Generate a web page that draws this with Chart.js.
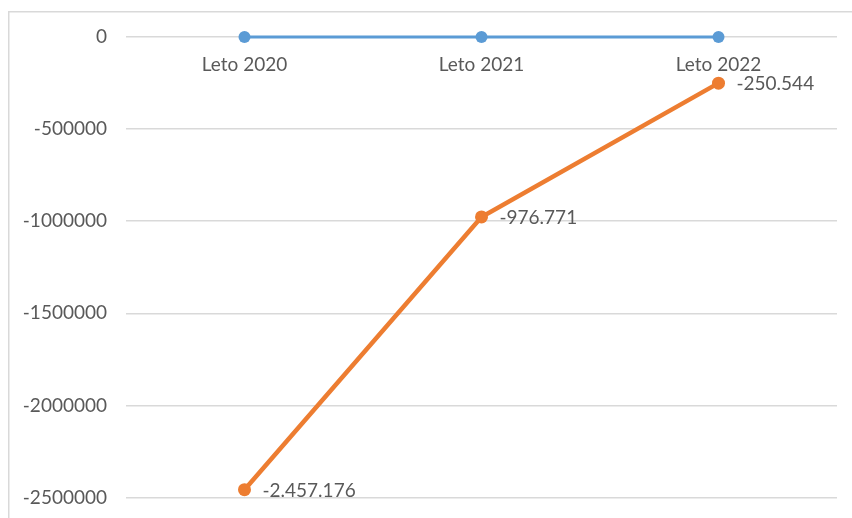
<!DOCTYPE html>
<html>
<head>
<meta charset="utf-8">
<script src="https://cdn.jsdelivr.net/npm/chart.js@4/dist/chart.umd.min.js"></script>
<style>
html,body{margin:0;padding:0;background:#fff;overflow:hidden;}
#wrap{position:relative;width:852px;height:518px;overflow:hidden;}
</style>
</head>
<body>
<div id="wrap"><canvas id="c" width="852" height="528"></canvas></div>
<script>
const categories = ['Leto 2020', 'Leto 2021', 'Leto 2022'];
const seriesBlue = [0, 0, 0];
const seriesOrange = [-2457176, -976771, -250544];
const orangeLabels = ['-2.457.176', '-976.771', '-250.544'];
const yMin = -2500000;
const yMax = 0;
const yStep = 500000;

const FONT = 'Lato, "Open Sans", sans-serif';
const TXT = '#595959';

const borderPlugin = {
  id: 'frame',
  beforeDraw(chart) {
    const ctx = chart.ctx;
    ctx.save();
    ctx.fillStyle = '#fff';
    ctx.fillRect(0, 0, chart.width, chart.height);
    ctx.strokeStyle = '#d9d9d9';
    ctx.lineWidth = 1.5;
    ctx.strokeRect(8.75, 11.75, 1000, 1000);
    ctx.restore();
  }
};

const labelPlugin = {
  id: 'pointLabels',
  afterDatasetsDraw(chart) {
    const ctx = chart.ctx;
    const meta = chart.getDatasetMeta(1);
    ctx.save();
    ctx.font = '19px ' + FONT;
    ctx.fillStyle = TXT;
    ctx.textAlign = 'left';
    ctx.textBaseline = 'middle';
    meta.data.forEach((pt, i) => {
      ctx.fillText(orangeLabels[i], pt.x + 18, pt.y + 1);
    });
    ctx.restore();
  }
};

new Chart(document.getElementById('c'), {
  type: 'line',
  data: {
    labels: categories,
    datasets: [
      {
        data: seriesBlue,
        borderColor: '#5b9bd5',
        backgroundColor: '#5b9bd5',
        borderWidth: 3,
        pointRadius: 6,
        pointBorderWidth: 0,
        pointBackgroundColor: '#5b9bd5',
        tension: 0,
        clip: false
      },
      {
        data: seriesOrange,
        borderColor: '#ed7d31',
        backgroundColor: '#ed7d31',
        borderWidth: 4.5,
        pointRadius: 6.5,
        pointBorderWidth: 0,
        pointBackgroundColor: '#ed7d31',
        tension: 0,
        clip: false
      }
    ]
  },
  options: {
    responsive: false,
    animation: false,
    layout: { padding: { left: 0, right: 15, top: 37, bottom: 10 } },
    plugins: { legend: { display: false }, title: { display: false }, tooltip: { enabled: false } },
    scales: {
      x: {
        position: { y: 0 },
        offset: true,
        grid: { display: false, drawTicks: false },
        border: { display: false },
        ticks: { color: TXT, font: { family: FONT, size: 19 }, padding: 16, maxRotation: 0 },
        afterFit(scale) { scale.height = 0; }
      },
      y: {
        min: yMin,
        max: yMax,
        grid: { color: '#d9d9d9', lineWidth: 1.5, drawTicks: false },
        border: { display: false },
        ticks: {
          stepSize: yStep,
          color: TXT,
          font: { family: FONT, size: 19 },
          padding: 19,
          callback: v => String(v)
        },
        afterFit(scale) { scale.width = 126; }
      }
    }
  },
  plugins: [borderPlugin, labelPlugin]
});
</script>
</body>
</html>
